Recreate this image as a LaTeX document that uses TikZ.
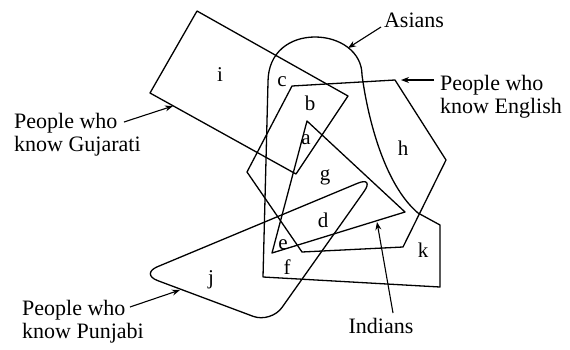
\documentclass[tikz,border=0pt]{standalone}
\usepackage{fontspec}
\setmainfont{Liberation Serif}
\usetikzlibrary{arrows.meta}
\begin{document}
\begin{tikzpicture}[x=1pt,y=-1pt,
  setline/.style={draw=black, line width=1.3pt, line join=round},
  lbl/.style={font=\fontsize{22}{23}\selectfont, inner sep=0pt, align=left},
  letter/.style={font=\fontsize{21}{23}\selectfont, inner sep=0pt},
  pointer/.style={line width=1.1pt, -{Stealth[length=8pt,width=6pt]}}]
\useasboundingbox (0,0) rectangle (570,349);
% Gujarati rectangle
\draw[setline] (197,11) -- (348,96) -- (296,174) -- (150,93) -- cycle;
% English hexagon
\draw[setline] (292,86) -- (395,80) -- (446,160) -- (403,247) -- (302,252) -- (247,172) -- cycle;
% Indians triangle
\draw[setline] (307,121) -- (405,212) -- (272,253) -- cycle;
% Asians
\draw[setline] (263,277) -- (268,82) .. controls (268,52) and (290,37) .. (315,37)
  .. controls (340,37) and (362,52) .. (362,75)
  .. controls (368,120) and (385,185) .. (418,213) -- (440,225) -- (440,287) -- cycle;
% Punjabi
\draw[setline, rounded corners=19pt] (140,274) -- (375,176) -- (271,323) -- cycle;
% region letters
\node[letter] (li) at (220,75) {i};
\node[letter] (lc) at (282,82) {c};
\node[letter] (lb) at (310,103) {b};
\node[letter] (la) at (306,140) {a};
\node[letter] (lh) at (403,148) {h};
\node[letter] (lg) at (325,177) {g};
\node[letter] (ld) at (323,220) {d};
\node[letter] (le) at (283,245) {e};
\node[letter] (lf) at (287,267) {f};
\node[letter] (lk) at (423,250) {k};
\node[letter] (lj) at (211,280) {j};
% labels
\node[lbl, anchor=west] (guj) at (14,135) {People who\\know Gujarati};
\node[lbl, anchor=west] (eng) at (440,97) {People who\\know English};
\node[lbl] (asi) at (414,20) {Asians};
\node[lbl] (ind) at (381,326) {Indians};
\node[lbl, anchor=west] (pun) at (22,322) {People who\\know Punjabi};
% pointers
\coordinate (gujtail) at (124,122); \coordinate (gujtip) at (173,106);
\coordinate (engtail) at (434,80); \coordinate (engtip) at (401,80);
\coordinate (asitail) at (381,27); \coordinate (asitip) at (348,48);
\coordinate (indtail) at (393,313); \coordinate (indtip) at (377,222);
\coordinate (puntail) at (130,307); \coordinate (puntip) at (180,290);
\draw[pointer] (gujtail) -- (gujtip);
\draw[pointer] (engtail) -- (engtip);
\draw[pointer] (asitail) -- (asitip);
\draw[pointer] (indtail) -- (indtip);
\draw[pointer] (puntail) -- (puntip);
\end{tikzpicture}
\end{document}
